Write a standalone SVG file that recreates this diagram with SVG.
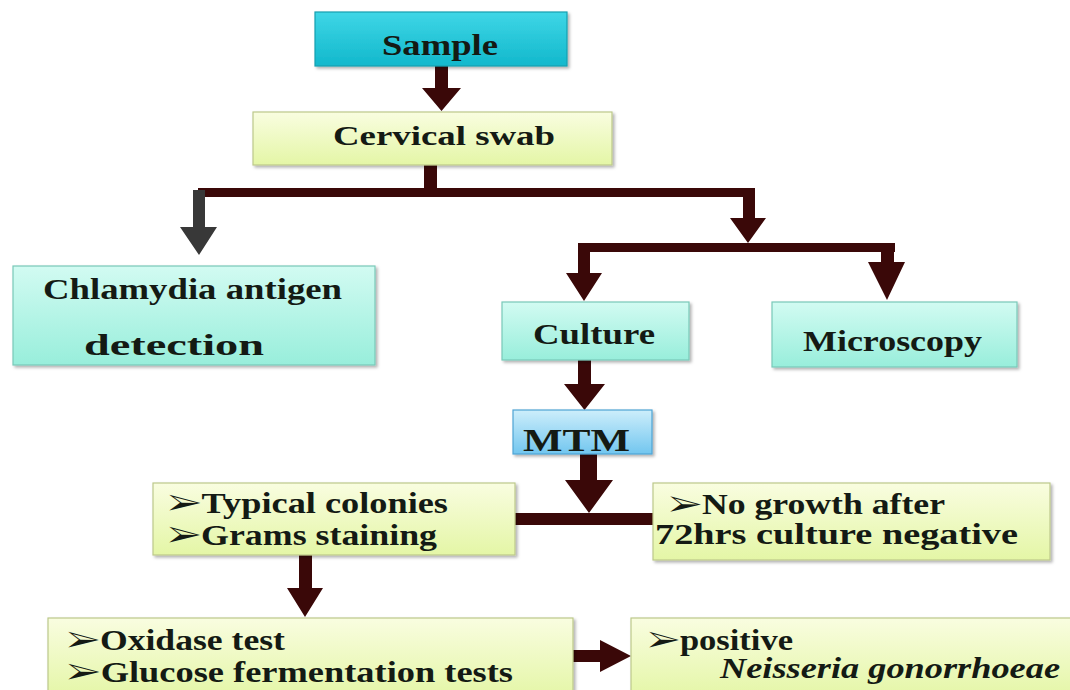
<svg xmlns="http://www.w3.org/2000/svg" width="1070" height="690" viewBox="0 0 1070 690">
  <defs>
    <linearGradient id="gYellow" x1="0" y1="0" x2="0" y2="1">
      <stop offset="0" stop-color="#f9fde0"/>
      <stop offset="1" stop-color="#e4f6a6"/>
    </linearGradient>
    <linearGradient id="gAqua" x1="0" y1="0" x2="0" y2="1">
      <stop offset="0" stop-color="#d2fbf2"/>
      <stop offset="1" stop-color="#98eedb"/>
    </linearGradient>
    <linearGradient id="gCyan" x1="0" y1="0" x2="0" y2="1">
      <stop offset="0" stop-color="#3fd6e6"/>
      <stop offset="1" stop-color="#12b8cc"/>
    </linearGradient>
    <linearGradient id="gBlue" x1="0" y1="0" x2="0" y2="1">
      <stop offset="0" stop-color="#cdeefb"/>
      <stop offset="1" stop-color="#72c6ef"/>
    </linearGradient>
    <filter id="shadow" x="-5%" y="-10%" width="115%" height="130%">
      <feDropShadow dx="2" dy="2" stdDeviation="1.5" flood-color="#000" flood-opacity="0.3"/>
    </filter>
  </defs>
  <style>
    .box { filter: url(#shadow); stroke-width: 1.2; }
    .yellow { fill: url(#gYellow); stroke: #bcc98a; }
    .aqua { fill: url(#gAqua); stroke: #79c9b8; }
    .cyan { fill: url(#gCyan); stroke: #169fb0; }
    .blue { fill: url(#gBlue); stroke: #4ea4d4; }
    text { font-family: 'Liberation Serif', 'Tinos', 'Times New Roman', 'Nimbus Roman', 'FreeSerif', 'Noto Serif', 'DejaVu Serif', 'DejaVu Sans', serif; font-weight: 700; fill: #141a14; }
    .arrow { fill: #3a0808; }
    .gray { fill: #383838; }
  </style>
  <rect width="1070" height="690" fill="#ffffff"/>

  <g id="connectors">
    <path class="arrow" d="M435,66 H448 V88 H461 L441.5,111 L422,88 H435 Z"/>
    <rect class="arrow" x="424" y="165" width="13" height="26"/>
    <rect class="arrow" x="198" y="188" width="557" height="9"/>
    <path class="gray" d="M193,190 H205 V227 H217 L199,255 L180,227 H193 Z"/>
    <path class="arrow" d="M743,188 H755 V218 H766 L748,243 L730,218 H743 Z"/>
    <rect class="arrow" x="578" y="243" width="317" height="9"/>
    <path class="arrow" d="M578,243 H590 V273 H602 L584,301 L566,273 H578 Z"/>
    <path class="arrow" d="M881,243 H894 V262 H905 L887,300 L868,262 H881 Z"/>
    <path class="arrow" d="M578,360 H591 V384 H605 L584.5,410 L564,384 H578 Z"/>
    <path class="arrow" d="M580,454 H597 V480 H613 L589,513 L565,480 H580 Z"/>
    <rect class="arrow" x="515" y="513" width="140" height="12"/>
    <path class="arrow" d="M299,555 H312 V588 H323 L305,617 L287,588 H299 Z"/>
    <path class="arrow" d="M573,650 H600 V640 L631,656 L600,672 V662 H573 Z"/>
  </g>

  <g id="node-sample">
    <rect class="box cyan" x="315" y="12" width="252" height="54"/>
    <text x="382" y="55" font-size="30" textLength="116" lengthAdjust="spacingAndGlyphs">Sample</text>
  </g>

  <g id="node-cervical">
    <rect class="box yellow" x="253" y="112" width="359" height="53"/>
    <text x="333" y="145" font-size="28" textLength="222" lengthAdjust="spacingAndGlyphs">Cervical swab</text>
  </g>

  <g id="node-chlamydia">
    <rect class="box aqua" x="13" y="266" width="362" height="99"/>
    <text x="43" y="299" font-size="30" textLength="299" lengthAdjust="spacingAndGlyphs">Chlamydia antigen</text>
    <text x="84" y="355" font-size="30" textLength="180" lengthAdjust="spacingAndGlyphs">detection</text>
  </g>

  <g id="node-culture">
    <rect class="box aqua" x="502" y="302" width="187" height="58"/>
    <text x="533" y="344" font-size="30" textLength="122" lengthAdjust="spacingAndGlyphs">Culture</text>
  </g>

  <g id="node-microscopy">
    <rect class="box aqua" x="772" y="302" width="245" height="65"/>
    <text x="803" y="351" font-size="30" textLength="179" lengthAdjust="spacingAndGlyphs">Microscopy</text>
  </g>

  <g id="node-mtm">
    <rect class="box blue" x="513" y="410" width="139" height="44"/>
    <text x="523" y="451" font-size="31" textLength="107" lengthAdjust="spacingAndGlyphs">MTM</text>
  </g>

  <g id="node-typical">
    <rect class="box yellow" x="153" y="483" width="362" height="72"/>
    <text x="168" y="513" font-size="30" textLength="280" lengthAdjust="spacingAndGlyphs">➢Typical colonies</text>
    <text x="168" y="545" font-size="30" textLength="269" lengthAdjust="spacingAndGlyphs">➢Grams staining</text>
  </g>

  <g id="node-nogrowth">
    <rect class="box yellow" x="653" y="483" width="397" height="77"/>
    <text x="669" y="514" font-size="29" textLength="276" lengthAdjust="spacingAndGlyphs">➢No growth after</text>
    <text x="655" y="544" font-size="29" textLength="363" lengthAdjust="spacingAndGlyphs">72hrs culture negative</text>
  </g>

  <g id="node-oxidase">
    <rect class="box yellow" x="48" y="618" width="525" height="80"/>
    <text x="67" y="650" font-size="30" textLength="218" lengthAdjust="spacingAndGlyphs">➢Oxidase test</text>
    <text x="67" y="682" font-size="30" textLength="446" lengthAdjust="spacingAndGlyphs">➢Glucose fermentation tests</text>
  </g>

  <g id="node-positive">
    <rect class="box yellow" x="631" y="618" width="450" height="80"/>
    <text x="648" y="650" font-size="30" textLength="145" lengthAdjust="spacingAndGlyphs">➢positive</text>
    <text x="720" y="678" font-size="30" font-style="italic" textLength="340" lengthAdjust="spacingAndGlyphs">Neisseria gonorrhoeae</text>
  </g>
</svg>
